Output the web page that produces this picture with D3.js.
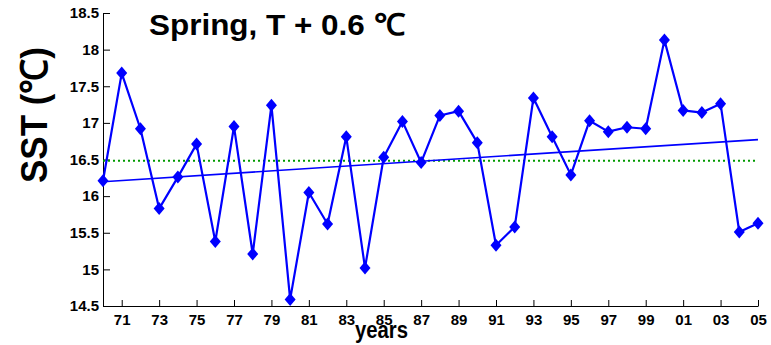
<!DOCTYPE html>
<html>
<head>
<meta charset="utf-8">
<script src="https://cdn.jsdelivr.net/npm/d3@7"></script>
<style>
  body { margin: 0; background: #fff; }
  svg text { font-family: Arial, "Liberation Sans", Helvetica, sans-serif; font-weight: bold; }
</style>
</head>
<body>
<div id="chart"></div>
<script>
// spring SST, 1970-2005
var years = d3.range(1970, 2006);
var sst = [16.21, 17.68, 16.92, 15.83, 16.26, 16.71, 15.38, 16.95, 15.21, 17.24,
           14.59, 16.05, 15.62, 16.81, 15.02, 16.53, 17.02, 16.46, 17.10, 17.16,
           16.73, 15.33, 15.58, 17.34, 16.81, 16.29, 17.03, 16.88, 16.94, 16.92,
           18.13, 17.17, 17.14, 17.26, 15.51, 15.63];
var xTicks = d3.range(1971, 2006, 2);
var yTicks = [14.5, 15, 15.5, 16, 16.5, 17, 17.5, 18, 18.5];

var width = 771, height = 345;
var margin = {top: 13, right: 13, bottom: 39, left: 103};

var svg = d3.select("#chart").append("svg")
  .attr("width", width)
  .attr("height", height);

var x = d3.scaleLinear().domain([1970, 2005]).range([margin.left, width - margin.right]);
var y = d3.scaleLinear().domain([14.5, 18.5]).range([height - margin.bottom, margin.top]);

// axes (matlab style, ticks inside)
var xAxis = d3.axisBottom(x)
  .tickValues(xTicks)
  .tickSizeInner(-6)
  .tickSizeOuter(0)
  .tickPadding(8)
  .tickFormat(function(d) { return d3.format("02d")(d % 100); });

var yAxis = d3.axisLeft(y)
  .tickValues(yTicks)
  .tickSizeInner(-7)
  .tickSizeOuter(0)
  .tickPadding(4)
  .tickFormat(function(d) { return d; });

var gx = svg.append("g")
  .attr("transform", "translate(0," + y.range()[0] + ")")
  .call(xAxis);
var gy = svg.append("g")
  .attr("transform", "translate(" + margin.left + ",0)")
  .call(yAxis);

[gx, gy].forEach(function(g) {
  g.selectAll("text").style("font-size", "15px").attr("fill", "#000");
  g.selectAll("line").attr("stroke", "#000");
  g.select(".domain").attr("stroke", "#000");
});

// mean line
var mean = d3.mean(sst);
svg.append("line")
  .attr("x1", x(1970)).attr("x2", x(2005))
  .attr("y1", y(mean)).attr("y2", y(mean))
  .attr("stroke", "#009a00")
  .attr("stroke-width", 2)
  .attr("stroke-dasharray", "2,3");

// linear trend
var mx = d3.mean(years);
var b = d3.sum(years, function(d, i) { return (d - mx) * (sst[i] - mean); }) /
        d3.sum(years, function(d) { return (d - mx) * (d - mx); });
var a = mean - b * mx;
svg.append("line")
  .attr("x1", x(1970)).attr("x2", x(2005))
  .attr("y1", y(a + b * 1970)).attr("y2", y(a + b * 2005))
  .attr("stroke", "#0000ff")
  .attr("stroke-width", 1.6);

// series
var line = d3.line()
  .x(function(d, i) { return x(years[i]); })
  .y(function(d) { return y(d); });

svg.append("path")
  .datum(sst)
  .attr("fill", "none")
  .attr("stroke", "#0000ff")
  .attr("stroke-width", 2.2)
  .attr("stroke-linejoin", "round")
  .attr("d", line);

svg.selectAll("path.marker")
  .data(sst)
  .enter().append("path")
  .attr("class", "marker")
  .attr("fill", "#0000ff")
  .attr("d", function(d, i) {
    var cx = x(years[i]), cy = y(d), w = 5.5, h = 6.5;
    return "M" + cx + "," + (cy - h) + "L" + (cx + w) + "," + cy +
           "L" + cx + "," + (cy + h) + "L" + (cx - w) + "," + cy + "Z";
  });

// labels
svg.append("text")
  .attr("x", 149).attr("y", 35)
  .attr("textLength", 256)
  .attr("lengthAdjust", "spacingAndGlyphs")
  .style("font-size", "30px")
  .text("Spring, T + 0.6 \u2103");

svg.append("text")
  .attr("x", 355).attr("y", 338)
  .attr("textLength", 53)
  .attr("lengthAdjust", "spacingAndGlyphs")
  .style("font-size", "23px")
  .text("years");

svg.append("text")
  .attr("transform", "translate(47,183) rotate(-90)")
  .attr("textLength", 136)
  .attr("lengthAdjust", "spacingAndGlyphs")
  .style("font-size", "37px")
  .text("SST (\u2103)");
</script>
</body>
</html>
